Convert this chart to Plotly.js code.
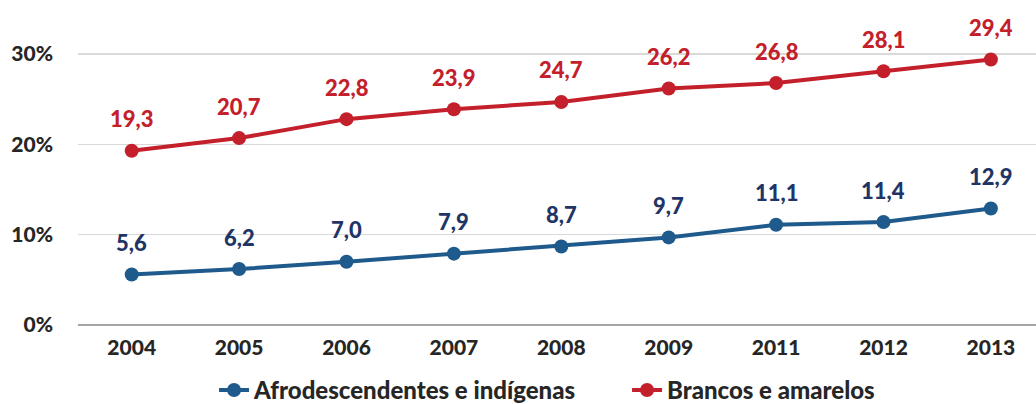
<!DOCTYPE html>
<html><head><meta charset="utf-8">
<script src="https://cdn.plot.ly/plotly-3.0.1.min.js"></script>
<style>html,body{margin:0;padding:0;background:#fff}#c{width:1036px;height:404px}</style>
</head><body><div id="c"></div>
<script>
const years = ["2004","2005","2006","2007","2008","2009","2011","2012","2013"];
const afro = [5.6, 6.2, 7.0, 7.9, 8.7, 9.7, 11.1, 11.4, 12.9];
const brancos = [19.3, 20.7, 22.8, 23.9, 24.7, 26.2, 26.8, 28.1, 29.4];
const names = ["Afrodescendentes e indígenas", "Brancos e amarelos"];
const lineColors = ["#1f5a8c", "#c3202b"];
const labelColors = ["#1f3566", "#c3202b"];
const yTicks = [0, 10, 20, 30];

const fmt = v => v.toFixed(1).replace(".", ",");
const FONT = "Lato, 'Open Sans', sans-serif";

const series = [afro, brancos];
const traces = series.map((vals, i) => ({
  type: "scatter", mode: "lines+markers", name: names[i],
  x: years, y: vals,
  line: {color: lineColors[i], width: 4},
  marker: {color: lineColors[i], size: 14},
  hoverinfo: "skip"
}));

const annotations = [];
series.forEach((vals, i) => {
  vals.forEach((v, j) => {
    annotations.push({
      x: j, y: v, xref: "x", yref: "y",
      text: fmt(v), showarrow: false, yshift: 32,
      font: {family: FONT, size: 22, color: labelColors[i], weight: 900}
    });
  });
});

const layout = {
  width: 1036, height: 404,
  margin: {l: 78, r: 0, t: 9, b: 79, autoexpand: false},
  paper_bgcolor: "#fff", plot_bgcolor: "#fff",
  showlegend: true,
  legend: {orientation: "h", x: 0.142, xanchor: "left", y: -0.207, yanchor: "middle",
    font: {family: FONT, size: 24, color: "#262626", weight: 900},
    entrywidth: 368, entrywidthmode: "pixels", tracegroupgap: 0},
  xaxis: {type: "category", range: [-0.5, 8.42], showgrid: false, zeroline: false,
    showline: false, ticks: "", automargin: false, ticklabelstandoff: 8,
    tickfont: {family: FONT, size: 21, color: "#262626", weight: 900}},
  yaxis: {range: [0, 35], tickvals: yTicks, ticktext: yTicks.map(t => t + "%"),
    showgrid: true, gridcolor: "#d9d9d9", gridwidth: 1.5, automargin: false,
    zeroline: true, zerolinecolor: "#a6a6a6", zerolinewidth: 2,
    ticks: "", ticklabelstandoff: 24,
    tickfont: {family: FONT, size: 21, color: "#262626", weight: 900}},
  annotations: annotations
};

Plotly.newPlot("c", traces, layout, {displayModeBar: false, staticPlot: true});
</script></body></html>
